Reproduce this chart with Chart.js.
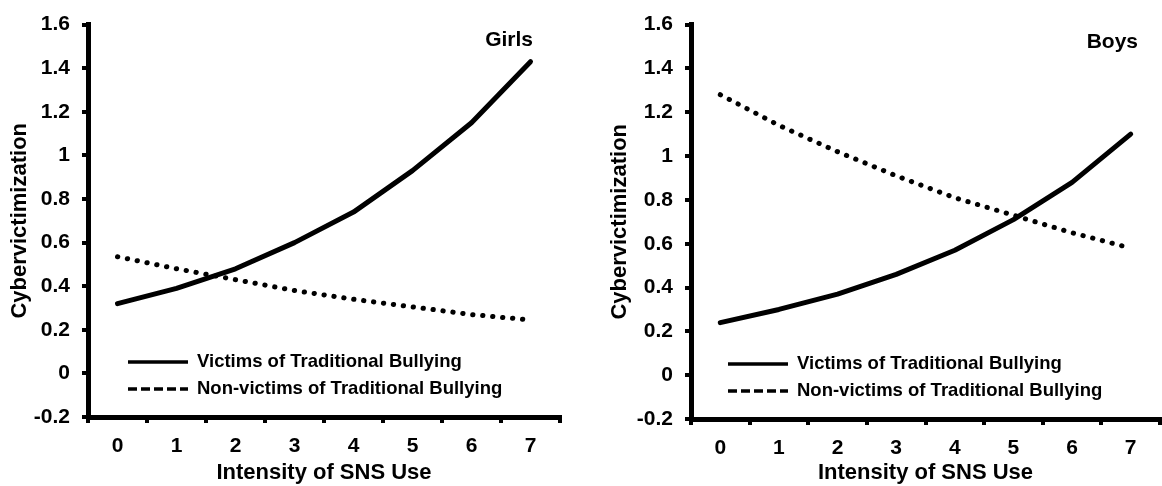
<!DOCTYPE html>
<html>
<head>
<meta charset="utf-8">
<script src="https://cdn.jsdelivr.net/npm/chart.js@4.4.1/dist/chart.umd.min.js"></script>
<style>
body { margin: 0; background: #fff; }
#wrap { position: relative; width: 1162px; height: 486px; }
.panel { position: absolute; top: 0; height: 486px; }
</style>
</head>
<body>
<div id="wrap">
  <div class="panel" style="left:0;width:600px"><canvas id="girls"></canvas></div>
  <div class="panel" style="left:600px;width:562px"><canvas id="boys"></canvas></div>
</div>
<script>
// values
const snsUse = ['0', '1', '2', '3', '4', '5', '6', '7'];
const girlsVictims = [0.32, 0.39, 0.48, 0.60, 0.74, 0.93, 1.15, 1.43];
const girlsNonVictims = [0.535, 0.48, 0.43, 0.38, 0.34, 0.305, 0.27, 0.245];
const boysVictims = [0.24, 0.30, 0.37, 0.46, 0.57, 0.71, 0.88, 1.10];
const boysNonVictims = [1.28, 1.14, 1.02, 0.91, 0.81, 0.73, 0.65, 0.58];
const seriesNames = ['Victims of Traditional Bullying', 'Non-victims of Traditional Bullying'];

const FONT = '"Liberation Sans", Arial, sans-serif';

// draws the panel name and the legend inside the plot area
const insideLegend = {
    id: 'insideLegend',
    afterDraw(chart, args, opts) {
        const ctx = chart.ctx, a = chart.chartArea;
        ctx.save();
        ctx.fillStyle = '#000';
        ctx.strokeStyle = '#000';
        ctx.textBaseline = 'middle';
        ctx.font = 'bold 21px ' + FONT;
        ctx.textAlign = 'right';
        ctx.fillText(opts.panel, a.right - opts.titleRight, a.top + opts.titleTop);

        ctx.font = 'bold 18.5px ' + FONT;
        ctx.textAlign = 'left';
        chart.data.datasets.forEach((ds, i) => {
            const y = a.bottom - 55 + i * 27;
            const x0 = a.left + opts.legendLeft;
            ctx.beginPath();
            ctx.lineWidth = 3.5;
            ctx.setLineDash(i ? [9, 4] : []);
            ctx.moveTo(x0, y);
            ctx.lineTo(x0 + 60, y);
            ctx.stroke();
            ctx.setLineDash([]);
            ctx.fillText(ds.label, x0 + 69, y);
        });
        ctx.restore();
    }
};

function makeChart(id, victims, nonVictims, opts) {
    const ctx = document.getElementById(id).getContext('2d');
    return new Chart(ctx, {
        type: 'line',
        data: {
            labels: snsUse,
            datasets: [{
                label: seriesNames[0],
                data: victims,
                borderColor: '#000',
                borderWidth: 5,
                borderCapStyle: 'round',
                borderJoinStyle: 'round',
                pointRadius: 0,
                tension: 0,
                fill: false
            }, {
                label: seriesNames[1],
                data: nonVictims,
                borderColor: '#000',
                borderWidth: 5,
                borderDash: [0.3, 9.7],
                borderCapStyle: 'round',
                pointRadius: 0,
                tension: 0,
                fill: false
            }]
        },
        options: {
            responsive: true,
            maintainAspectRatio: false,
            animation: false,
            layout: { padding: { top: opts.top, right: opts.right, left: 0, bottom: 0 } },
            plugins: {
                legend: { display: false },
                tooltip: { enabled: false },
                insideLegend: opts.legend
            },
            scales: {
                x: {
                    type: 'category',
                    offset: true,
                    afterFit: s => { s.height = opts.xHeight; },
                    grid: { offset: true, drawOnChartArea: false, tickLength: 6, lineWidth: 4, color: '#000' },
                    border: { display: true, width: 5, color: '#000' },
                    ticks: { color: '#000', padding: 11, font: { family: FONT, size: 21, weight: 'bold' } },
                    title: {
                        display: true, text: 'Intensity of SNS Use', color: '#000',
                        padding: { top: 0, bottom: 0 },
                        font: { family: FONT, size: 22, weight: 'bold' }
                    }
                },
                y: {
                    min: -0.2,
                    max: 1.6,
                    afterFit: s => { s.width = opts.yWidth; },
                    grid: { drawOnChartArea: false, tickLength: 6, lineWidth: 4, color: '#000' },
                    border: { display: true, width: 5, color: '#000' },
                    ticks: {
                        stepSize: 0.2, color: '#000', padding: 12,
                        font: { family: FONT, size: 21, weight: 'bold' },
                        callback: v => String(Math.round(v * 10) / 10)
                    },
                    title: {
                        display: true, text: 'Cybervictimization', color: '#000',
                        padding: { top: 7, bottom: 0 },
                        font: { family: FONT, size: 22, weight: 'bold' }
                    }
                }
            }
        },
        plugins: [insideLegend]
    });
}

makeChart('girls', girlsVictims, girlsNonVictims, {
    top: 20, right: 40, xHeight: 69, yWidth: 88,
    legend: { panel: 'Girls', titleRight: 27, titleTop: 16, legendLeft: 40 }
});
makeChart('boys', boysVictims, boysNonVictims, {
    top: 21, right: 2, xHeight: 67, yWidth: 91,
    legend: { panel: 'Boys', titleRight: 22, titleTop: 18, legendLeft: 37 }
});
</script>
</body>
</html>
